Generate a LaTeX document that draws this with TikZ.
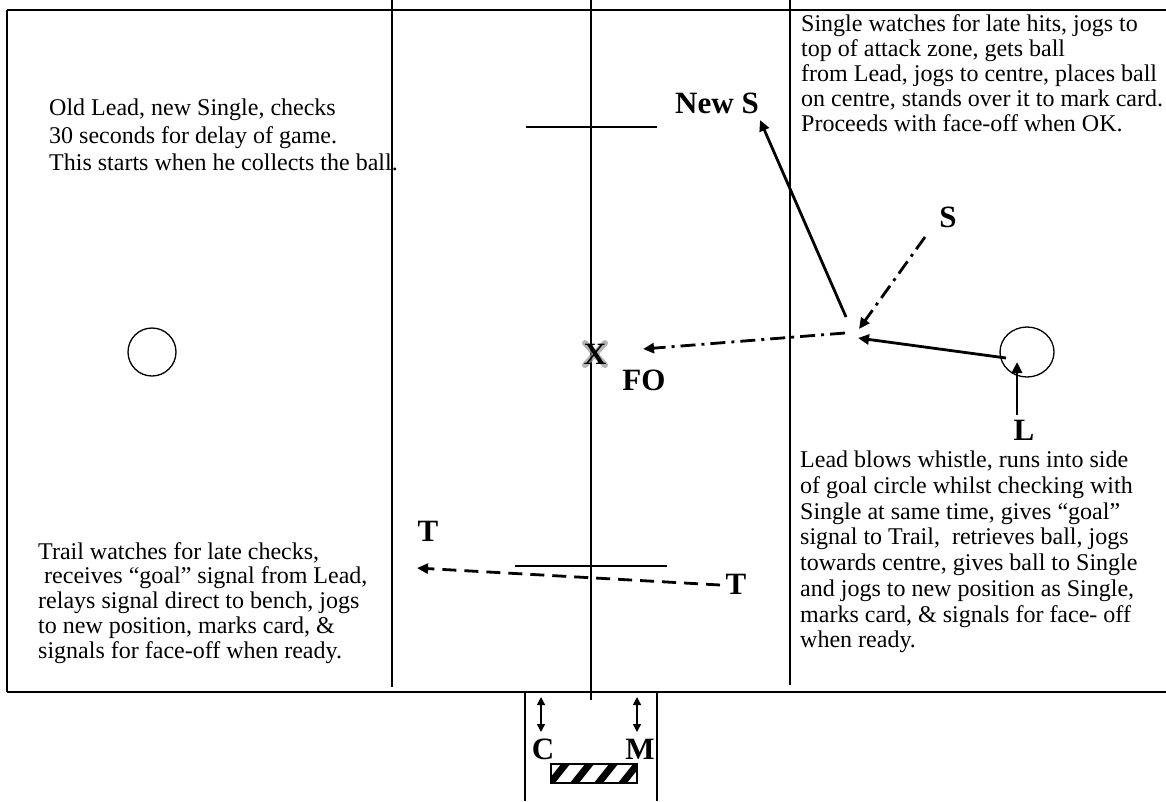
\documentclass[tikz,border=0pt]{standalone}
\usepackage{fontspec}
\setmainfont{Liberation Serif}
\usetikzlibrary{arrows.meta,shapes.geometric}
\definecolor{glowgray}{RGB}{150,150,150}

\begin{document}
\begin{tikzpicture}[x=1pt,y=-1pt,
    field/.style={line width=1.3pt},
    move/.style={line width=2.8pt,-{Triangle[length=11pt,width=10pt]}},
    dashdot/.style={dash pattern=on 15pt off 6pt on 3pt off 6pt},
    note/.style={anchor=north west,align=left,inner sep=0pt,font=\fontsize{24}{#1}\selectfont},
    ref/.style={inner sep=0pt,font=\fontsize{31}{31}\selectfont\bfseries},
    bothtips/.style={field,{Triangle[length=8pt,width=8pt]}-{Triangle[length=8pt,width=8pt]}}]
    \useasboundingbox (0,0) rectangle (1166,801);
    \draw[field] (7,10) -- (1166,10);
    \draw[field] (7,692) -- (1166,692);
    \draw[field] (7,10) -- (7,692);
    \draw[field] (392,0) -- (392,687);
    \draw[field] (591,0) -- (591,700);
    \draw[field] (790,0) -- (790,685);
    \draw[field] (526,127) -- (657,127);
    \draw[field] (515,566) -- (667,566);
    \draw[field] (525,692) -- (525,801);
    \draw[field] (657,692) -- (657,801);
    \node[draw,circle,field,inner sep=0pt,minimum size=48pt] (goalL) at (152,352) {};
    \node[draw,ellipse,field,inner sep=0pt,minimum width=54pt,minimum height=50pt] (goalR) at (1027,352) {};
    \node[note=27.5] (oldlead) at (49,99) {Old Lead, new Single, checks\\30 seconds for delay of game.\\This starts when he collects the ball.};
    \node[note=25] (single) at (801,14) {Single watches for late hits, jogs to\\top of attack zone, gets ball\\from Lead, jogs to centre, places ball\\on centre, stands over it to mark card.\\Proceeds with face-off when OK.};
    \node[note=24.75] (trail) at (38,542) {Trail watches for late checks,\\\ receives “goal” signal from Lead,\\relays signal direct to bench, jogs\\to new position, marks card, \&\\signals for face-off when ready.};
    \node[note=25.7] (lead) at (800,451) {Lead blows whistle, runs into side\\of goal circle whilst checking with\\Single at same time, gives “goal”\\signal to Trail, \ retrieves ball, jogs\\towards centre, gives ball to Single\\and jogs to new position as Single,\\marks card, \& signals for face- off\\when ready.};
    \draw[glowgray,line width=6pt,line cap=round,opacity=0.7] (585,343) -- (605,365) (605,343) -- (585,365);
    \node[ref] (xmark) at (595,354) {X};
    \node[ref] (fo) at (644,380) {FO};
    \node[ref] (newS) at (717,103) {New S};
    \node[ref] (oldS) at (948,217) {S};
    \node[ref] (leadL) at (1024,430) {L};
    \node[ref] (trailOld) at (736,584) {T};
    \node[ref] (trailNew) at (428,531) {T};
    \node[ref] (clock) at (543,749) {C};
    \node[ref] (marker) at (640,749) {M};
    \coordinate (leadStart) at (1006,358);
    \coordinate (leadEnd) at (858,338);
    \coordinate (lStart) at (1017,415);
    \coordinate (lEnd) at (1017,362);
    \coordinate (sStart) at (925,237);
    \coordinate (sEnd) at (859,329);
    \coordinate (nsStart) at (846,317);
    \coordinate (nsEnd) at (760,120);
    \coordinate (foStart) at (845,333);
    \coordinate (foEnd) at (643,349);
    \coordinate (tStart) at (720,585);
    \coordinate (tEnd) at (417,568);
    \draw[move] (leadStart) -- (leadEnd);
    \draw[move] (lStart) -- (lEnd);
    \draw[move,dashdot] (sStart) -- (sEnd);
    \draw[move] (nsStart) -- (nsEnd);
    \draw[move,dashdot] (foStart) -- (foEnd);
    \draw[move,dash pattern=on 14pt off 8pt] (tStart) -- (tEnd);
    \coordinate (cTop) at (541,697);
    \coordinate (cBot) at (541,732);
    \coordinate (mTop) at (637,697);
    \coordinate (mBot) at (637,732);
    \draw[bothtips] (cTop) -- (cBot);
    \draw[bothtips] (mTop) -- (mBot);
    \begin{scope}
      \clip (551,764) rectangle (637,783);
      \foreach \s in {548,572,596,620,644}
        \draw[line width=7pt] (\s,786) -- (\s+20,761);
    \end{scope}
    \draw[field] (551,764) rectangle (637,783);
\end{tikzpicture}
\end{document}
